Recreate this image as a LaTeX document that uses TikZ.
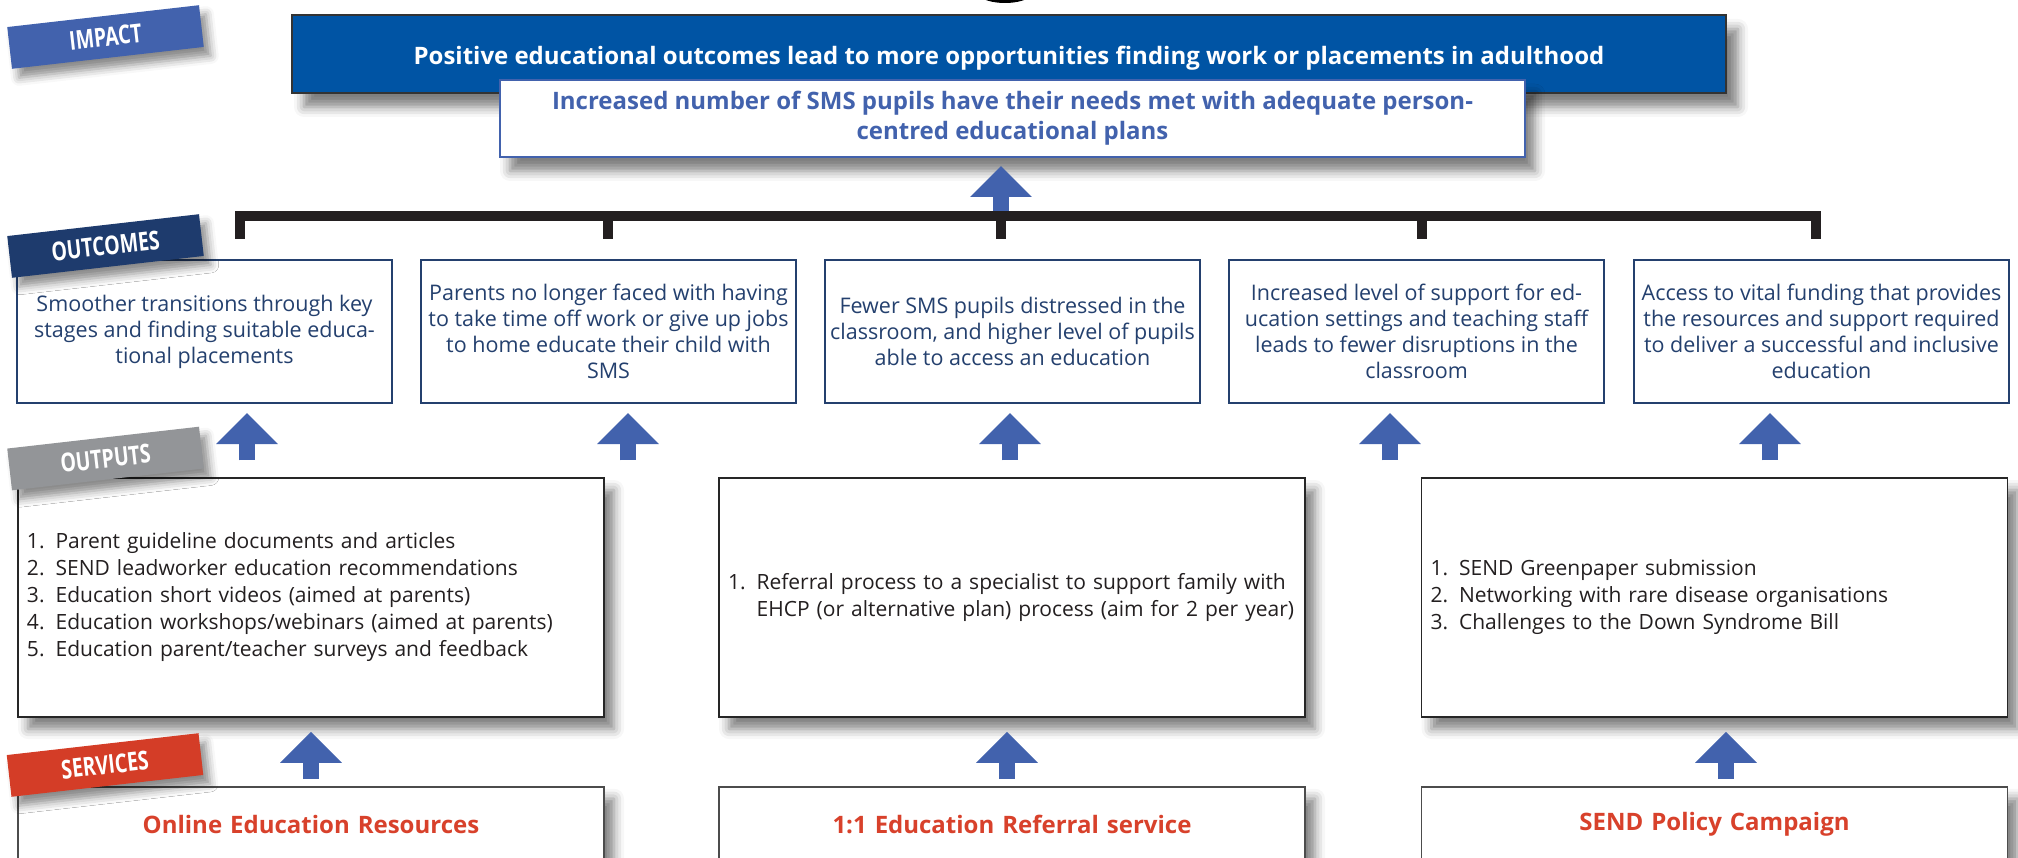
\documentclass[tikz,border=0pt]{standalone}
\usepackage{fontspec}
\setmainfont{Open Sans}
\newfontfamily\headfont{Open Sans}
\newfontfamily\tagfont{Open Sans}[FakeStretch=0.75]
\usetikzlibrary{arrows.meta,shadows.blur}

\definecolor{tagblue}{HTML}{4262AD}
\definecolor{boxblue}{HTML}{0054A4}
\definecolor{navy}{HTML}{24406E}
\definecolor{tagnavy}{HTML}{1E3B6D}
\definecolor{taggray}{HTML}{939598}
\definecolor{tagred}{HTML}{D43D27}
\definecolor{servred}{HTML}{D8412B}
\definecolor{arrowblue}{HTML}{4262AD}
\definecolor{barblack}{HTML}{231F20}

\begin{document}
\begin{tikzpicture}[x=1pt,y=-1pt,
    tagbox/.style={rotate=6.5, minimum width=193pt, minimum height=42pt, inner sep=0pt,
        text=white, font=\tagfont\bfseries\fontsize{26}{28}\selectfont,
        blur shadow={shadow xshift=7pt, shadow yshift=-9pt, shadow blur radius=8pt, shadow opacity=45}},
    outcomebox/.style={draw=navy, line width=2.2pt, fill=white, minimum width=375pt,
        minimum height=143pt, inner sep=0pt, align=center, text=navy,
        font=\fontsize{21.5}{26}\selectfont},
    outbox/.style={draw=black!85, line width=1.5pt, fill=white, text width=568pt,
        inner xsep=9pt, inner ysep=0pt, minimum height=239pt, align=left, text=barblack,
        font=\fontsize{21}{27}\selectfont,
        blur shadow={shadow xshift=10pt, shadow yshift=-12pt, shadow blur radius=10pt, shadow opacity=50}},
    servbox/.style={outbox, draw=black!70, minimum height=76pt, align=center, text=servred,
        font=\headfont\bfseries\fontsize{24}{26}\selectfont},
    fatarrow/.style={draw=arrowblue, line width=16pt, -{Triangle[width=60pt,length=31pt]}},
    bracketline/.style={draw=barblack, line width=10pt}]
\useasboundingbox (0,0) rectangle (2018,858);

\fill[black] (1005,-13) ellipse [x radius=33pt, y radius=16pt];

\node[fill=boxblue, draw=black!80, line width=1.2pt, minimum width=1434pt, minimum height=78pt,
    blur shadow={shadow xshift=12pt, shadow yshift=-14pt, shadow blur radius=10pt, shadow opacity=50}]
    (imp1) at (1009,54) {};
\node[text=white, font=\headfont\bfseries\fontsize{24}{28}\selectfont] at (1009,58)
    {Positive educational outcomes lead to more opportunities finding work or placements in adulthood};
\node[fill=white, draw=tagblue, line width=2pt, minimum width=1025pt, minimum height=77pt,
    align=center, text=tagblue, font=\headfont\bfseries\fontsize{24}{30}\selectfont,
    blur shadow={shadow xshift=10pt, shadow yshift=-14pt, shadow blur radius=10pt, shadow opacity=50}]
    (imp2) at (1012.5,118.5)
    {Increased number of SMS pupils have their needs met with adequate person-\\centred educational plans};

\node[outcomebox] (o1) at (204.5,331.5)
    {Smoother transitions through key\\stages and finding suitable educa-\\tional placements};
\node[outcomebox] (o2) at (608.5,331.5)
    {Parents no longer faced with having\\to take time off work or give up jobs\\to home educate their child with\\SMS};
\node[outcomebox] (o3) at (1012.5,331.5)
    {Fewer SMS pupils distressed in the\\classroom, and higher level of pupils\\able to access an education};
\node[outcomebox] (o4) at (1416.5,331.5)
    {Increased level of support for ed-\\ucation settings and teaching staff\\leads to fewer disruptions in the\\classroom};
\node[outcomebox] (o5) at (1821.5,331.5)
    {Access to vital funding that provides\\the resources and support required\\to deliver a successful and inclusive\\education};

\node[outbox] (p1) at (311,597.5) {\begin{tabular}{@{}l@{\hspace{11pt}}l@{}}
    1. & Parent guideline documents and articles\\
    2. & SEND leadworker education recommendations\\
    3. & Education short videos (aimed at parents)\\
    4. & Education workshops/webinars (aimed at parents)\\
    5. & Education parent/teacher surveys and feedback
    \end{tabular}};
\node[outbox] (p2) at (1012,597.5) {\begin{tabular}{@{}l@{\hspace{11pt}}l@{}}
    1. & Referral process to a specialist to support family with\\
       & EHCP (or alternative plan) process (aim for 2 per year)
    \end{tabular}};
\node[outbox] (p3) at (1714.5,597.5) {\begin{tabular}{@{}l@{\hspace{11pt}}l@{}}
    1. & SEND Greenpaper submission\\
    2. & Networking with rare disease organisations\\
    3. & Challenges to the Down Syndrome Bill
    \end{tabular}};

\node[servbox, anchor=north] (s1) at (311,786) {Online Education Resources};
\node[servbox, anchor=north] (s2) at (1012,786) {1:1 Education Referral service};
\node[servbox, anchor=north] (s3) at (1714.5,786) {SEND Policy Campaign};

\coordinate (a1) at (247,0);
\coordinate (a2) at (628,0);
\coordinate (a3) at (1010,0);
\coordinate (a4) at (1390,0);
\coordinate (a5) at (1770,0);
\draw[fatarrow, shorten <=17pt, shorten >=9pt] (a1 |- p1.north) -- (a1 |- o1.south);
\draw[fatarrow, shorten <=17pt, shorten >=9pt] (a2 |- p1.north) -- (a2 |- o2.south);
\draw[fatarrow, shorten <=17pt, shorten >=9pt] (a3 |- p2.north) -- (a3 |- o3.south);
\draw[fatarrow, shorten <=17pt, shorten >=9pt] (a4 |- p3.north) -- (a4 |- o4.south);
\draw[fatarrow, shorten <=17pt, shorten >=9pt] (a5 |- p3.north) -- (a5 |- o5.south);

\coordinate (c1) at (311,0);
\coordinate (c2) at (1007,0);
\coordinate (c3) at (1726,0);
\draw[fatarrow, shorten <=7pt, shorten >=14pt] (c1 |- s1.north) -- (c1 |- p1.south);
\draw[fatarrow, shorten <=7pt, shorten >=14pt] (c2 |- s2.north) -- (c2 |- p2.south);
\draw[fatarrow, shorten <=7pt, shorten >=14pt] (c3 |- s3.north) -- (c3 |- p3.south);

\coordinate (brk) at (1001,216);
\draw[fatarrow, shorten >=8pt] (brk) -- (brk |- imp2.south);
\draw[bracketline] (240,239) |- (brk) -| (1816,239);
\draw[bracketline] (608,216) -- (608,239);
\draw[bracketline] (brk) -- (1001,239);
\draw[bracketline] (1422,216) -- (1422,239);

\node[tagbox, fill=tagblue] (timpact) at (105.5,37) {IMPACT};
\node[tagbox, fill=tagnavy] (toutcomes) at (105.5,246) {OUTCOMES};
\node[tagbox, fill=taggray] (toutputs) at (105.5,458.5) {OUTPUTS};
\node[tagbox, fill=tagred] (tservices) at (105,765) {SERVICES};
\end{tikzpicture}
\end{document}
